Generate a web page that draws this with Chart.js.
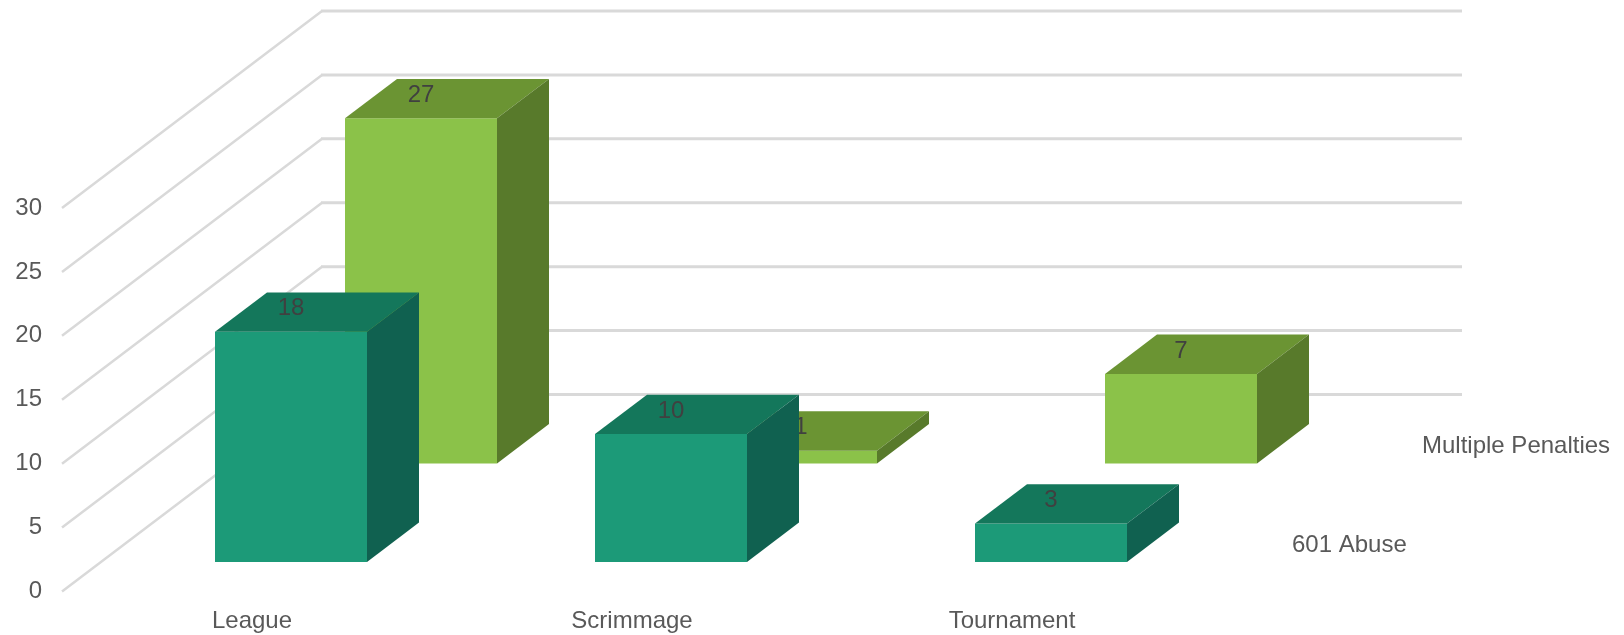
<!DOCTYPE html>
<html>
<head>
<meta charset="utf-8">
<title>Penalties by match type</title>
<script src="https://cdn.jsdelivr.net/npm/chart.js@4"></script>
<style>
    html, body { margin: 0; padding: 0; background: #fff; }
    canvas { display: block; }
</style>
</head>
<body>
<canvas id="penaltyChart" width="1624" height="635"></canvas>
<script>
const categories = ['League', 'Scrimmage', 'Tournament'];
const abuseValues = [18, 10, 3];
const penaltyValues = [27, 1, 7];

const textColor = '#595959';
const labelColor = '#404040';
const gridColor = '#d9d9d9';
const fontFamily = '"Liberation Sans", Arial, sans-serif';

// Fake 3D: how far the floor recedes, and where each series sits along it
const floorDepth = { x: 260, y: -197 };
const slotDepth = 0.5;    // share of the floor per series
const barDepth = 0.4;     // share of a slot taken by the bar

function depthAt(share) {
    return { x: floorDepth.x * share, y: floorDepth.y * share };
}

function drawPoly(ctx, points, color) {
    ctx.fillStyle = color;
    ctx.beginPath();
    points.forEach((p, i) => i ? ctx.lineTo(p[0], p[1]) : ctx.moveTo(p[0], p[1]));
    ctx.closePath();
    ctx.fill();
}

const walls = {
    id: 'walls',
    beforeDatasetsDraw(chart) {
        const { ctx, chartArea, scales } = chart;
        const back = depthAt(1);
        ctx.save();
        ctx.strokeStyle = gridColor;
        ctx.lineCap = 'butt';
        scales.y.ticks.forEach(tick => {
            const y = scales.y.getPixelForValue(tick.value);
            // side wall
            ctx.lineWidth = 2.5;
            ctx.beginPath();
            ctx.moveTo(chartArea.left, y);
            ctx.lineTo(chartArea.left + back.x, y + back.y);
            ctx.stroke();
            // back wall
            ctx.lineWidth = 3;
            ctx.beginPath();
            ctx.moveTo(chartArea.left + back.x - 1, y + back.y);
            ctx.lineTo(chartArea.right + back.x, y + back.y);
            ctx.stroke();
        });
        ctx.restore();
    }
};

// Shift each series back along the floor, then add the top and side faces
const bars3d = {
    id: 'bars3d',
    beforeDatasetDraw(chart, args) {
        const shift = depthAt(slotDepth * (args.index + (1 - barDepth) / 2));
        chart.ctx.save();
        chart.ctx.translate(shift.x, shift.y);
    },
    afterDatasetDraw(chart, args) {
        const { ctx } = chart;
        const ds = chart.data.datasets[args.index];
        const d = depthAt(slotDepth * barDepth);
        args.meta.data.forEach((bar, i) => {
            const { x, y, base, width } = bar.getProps(['x', 'y', 'base', 'width'], true);
            const l = x - width / 2;
            const r = x + width / 2;
            drawPoly(ctx, [[l, y], [r, y], [r + d.x, y + d.y], [l + d.x, y + d.y]], ds.topColor);
            drawPoly(ctx, [[r, y], [r + d.x, y + d.y], [r + d.x, base + d.y], [r, base]], ds.sideColor);
            ctx.fillStyle = labelColor;
            ctx.font = '24px ' + fontFamily;
            ctx.textAlign = 'center';
            ctx.textBaseline = 'middle';
            ctx.fillText(ds.data[i], x, y - 23);
        });
        ctx.restore();

        // series name out to the right of the floor, like a depth axis label
        const mid = depthAt(slotDepth * (args.index + 0.5));
        ctx.save();
        ctx.fillStyle = textColor;
        ctx.font = '24px ' + fontFamily;
        ctx.textAlign = 'left';
        ctx.textBaseline = 'middle';
        ctx.fillText(ds.label, chart.chartArea.right + mid.x + 25, chart.scales.y.bottom + mid.y + 3);
        ctx.restore();
    }
};

new Chart(document.getElementById('penaltyChart'), {
    type: 'bar',
    data: {
        labels: categories,
        datasets: [
            {
                label: '601 Abuse',
                data: abuseValues,
                backgroundColor: '#1c9a78',
                topColor: '#14775b',
                sideColor: '#106150',
                clip: false
            },
            {
                label: 'Multiple Penalties',
                data: penaltyValues,
                backgroundColor: '#8bc249',
                topColor: '#6b9433',
                sideColor: '#587a2b',
                clip: false
            }
        ]
    },
    options: {
        responsive: false,
        devicePixelRatio: 1,
        animation: false,
        layout: { padding: { top: 208, right: 422 } },
        datasets: {
            bar: {
                grouped: false,
                categoryPercentage: 1,
                barPercentage: 0.4
            }
        },
        plugins: {
            legend: { display: false },
            tooltip: { enabled: false }
        },
        scales: {
            x: {
                afterFit: scale => { scale.height = 43.5; },
                border: { display: false },
                grid: { display: false },
                ticks: {
                    color: textColor,
                    font: { family: fontFamily, size: 24 },
                    padding: 7,
                    maxRotation: 0,
                    autoSkip: false
                }
            },
            y: {
                min: 0,
                max: 30,
                afterFit: scale => { scale.width = 62; },
                border: { display: false },
                grid: { display: false },
                ticks: {
                    stepSize: 5,
                    color: textColor,
                    font: { family: fontFamily, size: 24 },
                    padding: 12
                }
            }
        }
    },
    plugins: [walls, bars3d]
});
</script>
</body>
</html>
